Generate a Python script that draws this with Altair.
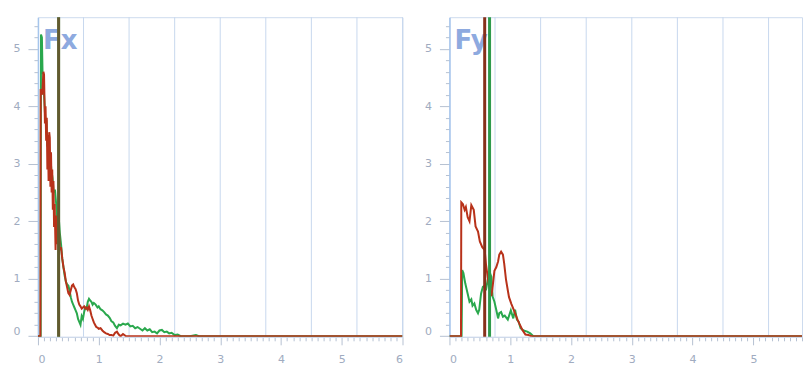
import altair as alt
import pandas as pd

# ---------------- data ----------------
FX_RED_X = [0, 0.04, 0.045, 0.07, 0.09, 0.1, 0.115, 0.125, 0.135, 0.145, 0.155, 0.165, 0.175, 0.185, 0.195, 0.205,
            0.215, 0.225, 0.235, 0.245, 0.255, 0.265, 0.275, 0.29, 0.3, 0.31, 0.32, 0.33, 0.345, 0.36, 0.38, 0.4,
            0.42, 0.44, 0.46, 0.48, 0.5, 0.52, 0.54, 0.56, 0.58, 0.6, 0.62, 0.64, 0.66, 0.68, 0.7, 0.72, 0.74, 0.76,
            0.78, 0.8, 0.82, 0.84, 0.86, 0.88, 0.9, 0.92, 0.94, 0.96, 0.98, 1.0, 1.03, 1.06, 1.09, 1.12, 1.15, 1.18,
            1.21, 1.24, 1.27, 1.3, 1.33, 1.36, 1.4, 1.45, 1.5, 6.0]
FX_RED_Y = [0, 0, 4.3, 4.2, 4.6, 4.55, 3.7, 4.0, 3.4, 3.8, 2.9, 3.5, 2.7, 3.55, 3.45, 2.6,
            3.2, 2.5, 2.9, 2.2, 2.7, 1.9, 2.3, 1.5, 2.1, 1.6, 2.05, 1.7, 1.9, 1.5, 1.55, 1.35,
            1.2, 1.1, 0.95, 0.85, 0.75, 0.72, 0.8, 0.88, 0.9, 0.85, 0.82, 0.75, 0.62, 0.55, 0.52, 0.48, 0.5, 0.52,
            0.48, 0.5, 0.46, 0.52, 0.45, 0.36, 0.3, 0.24, 0.2, 0.16, 0.15, 0.13, 0.14, 0.1, 0.07, 0.05, 0.04, 0.02,
            0.02, 0.01, 0.06, 0.08, 0.03, 0, 0.04, 0, 0, 0]

FX_GREEN_X = [0, 0.045, 0.05, 0.065, 0.075, 0.09, 0.1, 0.12, 0.14, 0.155, 0.17, 0.18, 0.2, 0.22, 0.24, 0.26, 0.28,
              0.3, 0.32, 0.34, 0.36, 0.38, 0.4, 0.42, 0.44, 0.46, 0.48, 0.5, 0.52, 0.54, 0.56, 0.58, 0.6, 0.62,
              0.64, 0.66, 0.68, 0.7, 0.72, 0.74, 0.76, 0.78, 0.8, 0.82, 0.84, 0.86, 0.88, 0.9, 0.92, 0.95, 0.98,
              1.0, 1.03, 1.06, 1.09, 1.12, 1.15, 1.18, 1.21, 1.24, 1.27, 1.3, 1.33, 1.36, 1.4, 1.44, 1.48, 1.52,
              1.56, 1.6, 1.64, 1.68, 1.72, 1.76, 1.8, 1.84, 1.88, 1.92, 1.96, 2.0, 2.04, 2.08, 2.12, 2.16, 2.2,
              2.25, 2.3, 2.35, 2.5, 2.6, 2.65, 6.0]
FX_GREEN_Y = [0, 0, 5.25, 5.2, 4.6, 4.55, 4.2, 3.8, 3.75, 3.3, 3.5, 3.1, 3.2, 2.9, 2.75, 2.5, 2.55,
              2.3, 2.0, 2.1, 1.8, 1.6, 1.35, 1.2, 1.05, 0.95, 0.9, 0.88, 0.8, 0.68, 0.6, 0.55, 0.5, 0.45,
              0.4, 0.3, 0.25, 0.2, 0.35, 0.3, 0.42, 0.5, 0.48, 0.6, 0.65, 0.62, 0.6, 0.55, 0.58, 0.55, 0.5,
              0.52, 0.47, 0.45, 0.42, 0.38, 0.36, 0.32, 0.26, 0.24, 0.18, 0.14, 0.2, 0.19, 0.22, 0.2, 0.22, 0.17,
              0.18, 0.14, 0.16, 0.13, 0.1, 0.14, 0.1, 0.12, 0.07, 0.08, 0.05, 0.1, 0.11, 0.07, 0.08, 0.05, 0.06,
              0.02, 0.03, 0, 0, 0.02, 0, 0]

FY_RED_X = [0, 0.19, 0.195, 0.22, 0.25, 0.27, 0.3, 0.33, 0.36, 0.4, 0.43, 0.47, 0.5, 0.54, 0.58, 0.6, 0.63, 0.66,
            0.69, 0.71, 0.74, 0.77, 0.8, 0.82, 0.85, 0.88, 0.9, 0.93, 0.96, 0.98, 1.02, 1.05, 1.09, 1.12, 1.15,
            1.2, 1.25, 1.3, 1.35, 6.0]
FY_RED_Y = [0, 0, 2.33, 2.3, 2.2, 2.25, 2.07, 2.0, 2.28, 2.2, 1.91, 1.82, 1.65, 1.55, 1.5, 1.26, 1.03, 0.82,
            0.7, 0.86, 1.14, 1.2, 1.3, 1.42, 1.47, 1.42, 1.27, 0.99, 0.8, 0.68, 0.56, 0.48, 0.37, 0.29, 0.22,
            0.11, 0.03, 0.02, 0, 0]

FY_GREEN_X = [0, 0.2, 0.21, 0.23, 0.26, 0.3, 0.33, 0.36, 0.38, 0.41, 0.44, 0.47, 0.49, 0.52, 0.55, 0.58, 0.6,
              0.63, 0.66, 0.69, 0.71, 0.74, 0.77, 0.8, 0.82, 0.85, 0.88, 0.91, 0.96, 1.01, 1.05, 1.08, 1.11,
              1.14, 1.17, 1.22, 1.28, 1.33, 1.38, 6.0]
FY_GREEN_Y = [0, 0, 1.15, 1.1, 0.92, 0.74, 0.6, 0.64, 0.53, 0.57, 0.46, 0.4, 0.46, 0.74, 0.86, 0.88, 0.8,
              0.98, 1.12, 1.03, 0.69, 0.6, 0.46, 0.31, 0.4, 0.42, 0.34, 0.36, 0.29, 0.45, 0.31, 0.46, 0.29,
              0.25, 0.14, 0.1, 0.08, 0.05, 0, 0]

FX_MEAN_GREEN = 0.34
FX_MEAN_RED = 0.34
FY_MEAN_RED = 0.58
FY_MEAN_GREEN = 0.66

GRID_X = [0.75, 1.5, 2.25, 3.0, 3.75, 4.5, 5.25, 6.0]
PANEL_TITLES = ["Fx", "Fy"]

# ---------------- style ----------------
GREEN = "#2aa84d"
RED = "#b8321a"
GREEN_RULE = "#2f9a4c"
RED_RULE = "#86301a"
GRID_COLOR = "#c8d8ee"
TICK_COLOR = "#b6c1d2"
LABEL_COLOR = "#a0abc0"
FONT = "DejaVu Sans"
MAJOR = "abs(datum.value - round(datum.value)) < 0.001"


def x_axis(values):
    return alt.Axis(
        values=values, title=None, grid=False, format=".0f",
        tickSize={"condition": {"test": MAJOR, "value": 8}, "value": 4},
        labelExpr=f"{MAJOR} ? datum.label : ''",
        labelOverlap=False, labelPadding=9,
        labelColor=LABEL_COLOR, labelFont=FONT, labelFontSize=11,
        tickColor=TICK_COLOR, domainColor="#cdd9ea",
    )


def y_axis():
    return alt.Axis(
        values=[round(i * 0.2, 1) for i in range(28)], title=None, grid=False, format=".0f",
        tickSize={"condition": {"test": MAJOR, "value": 10}, "value": 4},
        labelExpr=f"{MAJOR} ? datum.label : ''",
        labelOverlap=False, labelPadding=8, labelFlush=True,
        labelColor=LABEL_COLOR, labelFont=FONT, labelFontSize=11,
        tickColor=TICK_COLOR, domainColor="#a6c5ec", domainWidth=1.5,
    )


def panel(title, gx, gy, rx, ry, mean_g, mean_r, xmax, width, red_rule_opacity):
    xs = alt.Scale(domain=[0, xmax], nice=False, zero=False)
    ys = alt.Scale(domain=[-0.01, 5.55], nice=False, zero=False)
    xticks = [round(i * 0.1, 1) for i in range(int(round(xmax * 10)) + 1)]
    xenc = alt.X("x:Q", scale=xs, axis=x_axis(xticks))
    yenc = alt.Y("y:Q", scale=ys, axis=y_axis())

    grid = alt.Chart(pd.DataFrame({"x": [g for g in GRID_X if g <= xmax]})).mark_rule(
        color=GRID_COLOR, strokeWidth=1).encode(x=xenc)
    label = alt.Chart(pd.DataFrame({"t": [title]})).mark_text(
        align="left", baseline="alphabetic", font=FONT, fontSize=26, fontWeight="bold",
        color="#8eaadf").encode(text="t:N", x=alt.value(5), y=alt.value(32))
    gline = alt.Chart(pd.DataFrame({"x": gx, "y": gy})).mark_line(
        color=GREEN, strokeWidth=2, clip=True).encode(x=xenc, y=yenc)
    rline = alt.Chart(pd.DataFrame({"x": rx, "y": ry})).mark_line(
        color=RED, strokeWidth=2, clip=True).encode(x=xenc, y=yenc)
    gmean = alt.Chart(pd.DataFrame({"x": [mean_g]})).mark_rule(
        color=GREEN_RULE, strokeWidth=3).encode(x=xenc)
    rmean = alt.Chart(pd.DataFrame({"x": [mean_r]})).mark_rule(
        color=RED_RULE, strokeWidth=3, opacity=red_rule_opacity).encode(x=xenc)
    return alt.layer(grid, label, gline, rline, gmean, rmean).properties(width=width, height=320)


left = panel(PANEL_TITLES[0], FX_GREEN_X, FX_GREEN_Y, FX_RED_X, FX_RED_Y,
             FX_MEAN_GREEN, FX_MEAN_RED, 6.0, 365, 0.6)
right = panel(PANEL_TITLES[1], FY_GREEN_X, FY_GREEN_Y, FY_RED_X, FY_RED_Y,
              FY_MEAN_GREEN, FY_MEAN_RED, 5.8, 353, 1.0)

chart = alt.hconcat(left, right, spacing=20).properties(
    padding={"left": 12, "top": 15, "right": 0, "bottom": 0},
    background="white",
).configure_view(stroke="#cddbee")

chart.save("out.html", embed_options={"renderer": "svg", "actions": False})
